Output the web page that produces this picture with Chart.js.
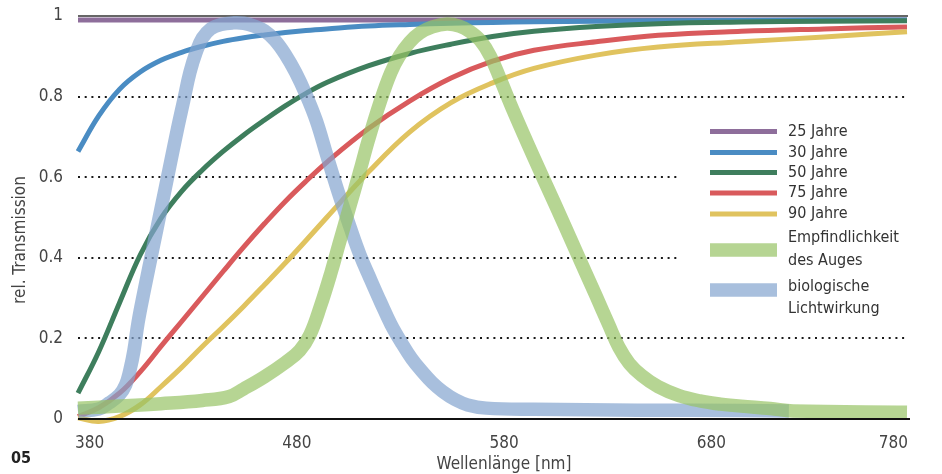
<!DOCTYPE html>
<html>
<head>
<meta charset="utf-8">
<script src="https://cdn.jsdelivr.net/npm/chart.js@4.4.1/dist/chart.umd.min.js"></script>
<style>
html, body { margin: 0; padding: 0; background: #fff; }
</style>
</head>
<body>
<canvas id="transChart" width="942" height="474"></canvas>
<script>
// wavelengths (nm) shared by the age curves
const wavelengths = [380, 390, 400, 410, 420, 430, 440, 450, 460, 470, 480, 490, 500, 520, 540, 560, 580, 600, 630, 660, 700, 740, 780]

const wl25 = [380, 780]
const years25 = [0.99, 0.99]
const years30 = [0.664, 0.752, 0.818, 0.861, 0.89, 0.91, 0.925, 0.937, 0.946, 0.953, 0.959, 0.964, 0.968, 0.975, 0.979, 0.982, 0.984, 0.986, 0.987, 0.988, 0.989, 0.99, 0.99]
const years50 = [0.064, 0.167, 0.288, 0.407, 0.498, 0.565, 0.618, 0.664, 0.705, 0.742, 0.777, 0.808, 0.835, 0.876, 0.907, 0.93, 0.949, 0.962, 0.974, 0.981, 0.985, 0.987, 0.988]
const years75 = [0.006, 0.028, 0.064, 0.117, 0.18, 0.242, 0.304, 0.366, 0.427, 0.485, 0.54, 0.59, 0.637, 0.72, 0.789, 0.846, 0.888, 0.915, 0.936, 0.952, 0.962, 0.968, 0.973]
const years90 = [0.003, -0.006, 0.006, 0.035, 0.08, 0.128, 0.18, 0.229, 0.28, 0.333, 0.387, 0.443, 0.5, 0.612, 0.712, 0.785, 0.834, 0.87, 0.903, 0.923, 0.936, 0.948, 0.961]

// eye sensitivity
const wlEye = [380, 400, 420, 440, 453, 460, 470, 480, 487, 492, 497, 502, 506, 511, 516, 520, 526, 531, 535, 540, 545, 551, 558, 564, 569, 574, 579, 584, 590, 600, 610, 620, 630, 636, 641, 646, 652, 660, 670, 680, 690, 700, 714, 725, 780]
const eye = [0.027, 0.032, 0.038, 0.046, 0.056, 0.075, 0.105, 0.14, 0.17, 0.21, 0.28, 0.362, 0.435, 0.525, 0.615, 0.69, 0.79, 0.86, 0.9, 0.935, 0.958, 0.973, 0.98, 0.975, 0.962, 0.94, 0.9, 0.84, 0.765, 0.648, 0.535, 0.42, 0.305, 0.235, 0.178, 0.138, 0.108, 0.08, 0.058, 0.045, 0.037, 0.032, 0.026, 0.02, 0.017]

// biological (circadian) effect
const wlBio = [380, 390, 395, 400, 403, 405, 407, 409, 412, 416, 420, 424, 428, 431, 434, 437, 440, 444, 449, 455, 460, 465, 470, 475, 480, 485, 490, 495, 500, 506, 511, 516, 521, 526, 531, 536, 541, 546, 551, 556, 562, 568, 577, 600, 650, 700, 723]
const bio = [0.019, 0.025, 0.04, 0.06, 0.085, 0.12, 0.17, 0.24, 0.32, 0.42, 0.52, 0.62, 0.72, 0.79, 0.86, 0.91, 0.945, 0.968, 0.979, 0.983, 0.982, 0.975, 0.963, 0.94, 0.905, 0.86, 0.805, 0.74, 0.655, 0.556, 0.48, 0.408, 0.348, 0.29, 0.235, 0.19, 0.15, 0.118, 0.09, 0.068, 0.048, 0.035, 0.027, 0.024, 0.022, 0.021, 0.02]

const xTicks = [380, 480, 580, 680, 780]
const yTicks = ["0", "0.2", "0.4", "0.6", "0.8", "1"]

const legendLabels = [["25 Jahre"], ["30 Jahre"], ["50 Jahre"], ["75 Jahre"], ["90 Jahre"], ["Empfindlichkeit", "des Auges"], ["biologische", "Lichtwirkung"]]

const axisFont = '"DejaVu Sans Condensed", "DejaVu Sans", sans-serif'

function series(label, xs, ys, color, width, order) {
  return {
    label: label,
    data: xs.map((x, i) => ({ x: x, y: ys[i] })),
    borderColor: color,
    borderWidth: width,
    pointRadius: 0,
    tension: 0.4,
    fill: false,
    clip: false,
    order: order
  }
}

const extras = {
  id: "extras",
  beforeDatasetsDraw(chart) {
    const ctx = chart.ctx
    const a = chart.chartArea
    ctx.save()
    // white box behind legend hides the grid there
    ctx.fillStyle = "#fff"
    ctx.fillRect(680, 112, 240, 212)
    // solid line at 1
    ctx.strokeStyle = "#333"
    ctx.lineWidth = 1.5
    ctx.beginPath()
    ctx.moveTo(a.left, a.top)
    ctx.lineTo(a.right + 1, a.top)
    ctx.stroke()
    ctx.restore()
  },
  afterDatasetsDraw(chart) {
    const ctx = chart.ctx
    const a = chart.chartArea
    const xs = chart.scales.x
    ctx.save()
    // base line at 0
    ctx.strokeStyle = "#111"
    ctx.lineWidth = 2
    ctx.beginPath()
    ctx.moveTo(a.left, a.bottom)
    ctx.lineTo(a.right + 3, a.bottom)
    ctx.stroke()

    // x tick labels
    ctx.fillStyle = "#444"
    ctx.font = "17px " + axisFont
    ctx.textBaseline = "middle"
    xTicks.forEach((t, i) => {
      const px = xs.getPixelForValue(t)
      if (i === xTicks.length - 1) {
        ctx.textAlign = "right"
        ctx.fillText(String(t), px + 1, 444)
      } else {
        ctx.textAlign = "left"
        ctx.fillText(String(t), px - 3, 444)
      }
    })

    // axis titles
    ctx.textAlign = "center"
    ctx.fillText("Wellenlänge [nm]", 504, 465)
    ctx.save()
    ctx.translate(21, 240)
    ctx.rotate(-Math.PI / 2)
    ctx.fillText("rel. Transmission", 0, 0)
    ctx.restore()

    // figure number
    ctx.fillStyle = "#222"
    ctx.font = "bold 16px " + axisFont
    ctx.textAlign = "left"
    ctx.fillText("05", 11, 459)

    // legend
    const rows = [131.5, 152.5, 172.5, 193, 214, 250, 290]
    const textRows = [[131.5], [152.5], [172.5], [193], [214], [238, 261], [287, 309]]
    ctx.font = '16px "DejaVu Sans Condensed", "DejaVu Sans", sans-serif'
    chart.data.datasets.forEach((ds, i) => {
      ctx.strokeStyle = ds.borderColor
      ctx.lineWidth = ds.borderWidth
      ctx.beginPath()
      ctx.moveTo(710, rows[i])
      ctx.lineTo(777, rows[i])
      ctx.stroke()
      ctx.fillStyle = "#333"
      legendLabels[i].forEach((txt, j) => {
        ctx.fillText(txt, 788, textRows[i][j])
      })
    })
    ctx.restore()
  }
}

new Chart(document.getElementById("transChart"), {
  type: "line",
  data: {
    datasets: [
      series("25 Jahre", wl25, years25, "#8e6e9b", 5, 6),
      series("30 Jahre", wavelengths, years30, "#4a8cc3", 5, 5),
      series("50 Jahre", wavelengths, years50, "#3e7e5d", 5, 4),
      series("75 Jahre", wavelengths, years75, "#d95a5c", 5, 3),
      series("90 Jahre", wavelengths, years90, "#e0c35f", 5, 2),
      series("Empfindlichkeit des Auges", wlEye, eye, "rgba(151,195,101,0.7)", 13.5, 0),
      series("biologische Lichtwirkung", wlBio, bio, "rgba(131,164,206,0.7)", 13.5, 1)
    ]
  },
  options: {
    responsive: false,
    animation: false,
    layout: { padding: { left: 0, right: 35, top: 16, bottom: 0 } },
    elements: { line: { capBezierPoints: false } },
    plugins: {
      legend: { display: false },
      tooltip: { enabled: false }
    },
    scales: {
      x: {
        type: "linear",
        min: 380,
        max: 780,
        ticks: { display: false, stepSize: 100 },
        grid: { display: false },
        border: { display: false },
        afterFit(scale) {
          scale.height = 55
          scale.paddingLeft = 0
          scale.paddingRight = 0
        }
      },
      y: {
        min: 0,
        max: 1,
        ticks: {
          stepSize: 0.2,
          padding: 15,
          color: "#444",
          font: { family: axisFont, size: 17 },
          callback: (v, i) => yTicks[i]
        },
        grid: {
          drawTicks: false,
          lineWidth: 2,
          color: (c) => (c.tick && (c.tick.value < 0.01 || c.tick.value > 0.99)) ? "rgba(0,0,0,0)" : "#1a1a1a"
        },
        border: { display: false, dash: [2, 4.7] },
        afterFit(scale) {
          scale.width = 78
          scale.paddingTop = 0
          scale.paddingBottom = 0
        }
      }
    }
  },
  plugins: [extras]
})
</script>
</body>
</html>
